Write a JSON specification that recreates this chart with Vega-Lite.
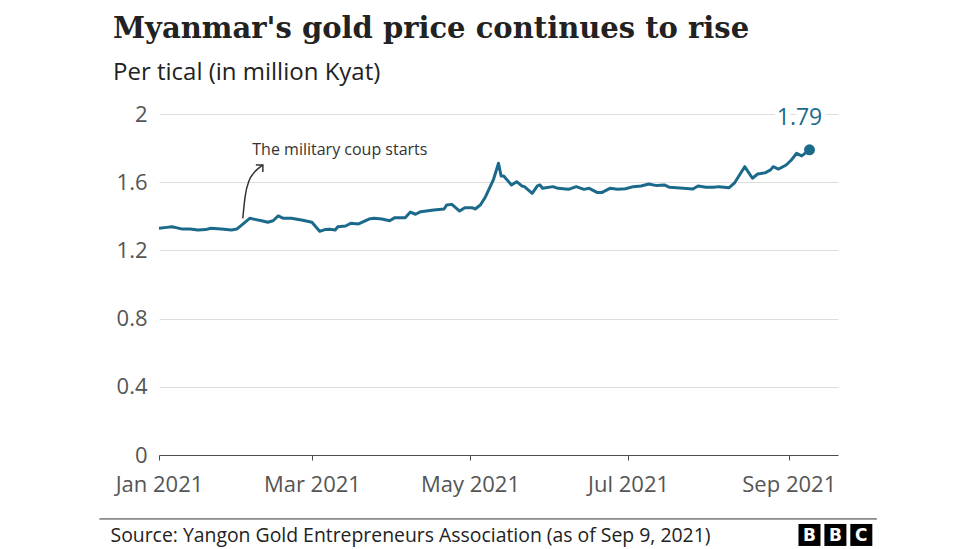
{
  "$schema": "https://vega.github.io/schema/vega-lite/v6.json",
  "width": 679,
  "height": 341,
  "autosize": {"type": "none"},
  "padding": {"left": 159, "top": 114, "right": 138, "bottom": 94},
  "background": "white",
  "config": {"view": {"stroke": null}, "font": "Open Sans"},
  "title": {
    "text": "Myanmar's gold price continues to rise",
    "subtitle": "Per tical (in million Kyat)",
    "anchor": "start",
    "frame": "group",
    "dx": -46,
    "offset": 18,
    "font": "DejaVu Serif",
    "fontSize": 29,
    "fontWeight": "bold",
    "color": "#222222",
    "subtitleFont": "Open Sans",
    "subtitleFontSize": 24,
    "subtitleColor": "#222222",
    "subtitlePadding": 17
  },
  "datasets": {
    "gold": [
      {"date": "2021-01-01", "v": 1.33},
      {"date": "2021-01-04", "v": 1.335},
      {"date": "2021-01-06", "v": 1.339},
      {"date": "2021-01-08", "v": 1.332},
      {"date": "2021-01-10", "v": 1.325},
      {"date": "2021-01-13", "v": 1.326},
      {"date": "2021-01-16", "v": 1.32},
      {"date": "2021-01-19", "v": 1.322},
      {"date": "2021-01-21", "v": 1.33},
      {"date": "2021-01-25", "v": 1.325},
      {"date": "2021-01-29", "v": 1.32},
      {"date": "2021-01-31", "v": 1.325},
      {"date": "2021-02-02", "v": 1.35},
      {"date": "2021-02-05", "v": 1.388},
      {"date": "2021-02-07", "v": 1.382},
      {"date": "2021-02-10", "v": 1.372},
      {"date": "2021-02-12", "v": 1.365},
      {"date": "2021-02-14", "v": 1.374},
      {"date": "2021-02-16", "v": 1.402},
      {"date": "2021-02-18", "v": 1.388},
      {"date": "2021-02-21", "v": 1.388},
      {"date": "2021-02-25", "v": 1.378},
      {"date": "2021-03-01", "v": 1.365},
      {"date": "2021-03-04", "v": 1.312},
      {"date": "2021-03-06", "v": 1.322},
      {"date": "2021-03-08", "v": 1.324},
      {"date": "2021-03-10", "v": 1.32},
      {"date": "2021-03-11", "v": 1.339},
      {"date": "2021-03-14", "v": 1.343},
      {"date": "2021-03-16", "v": 1.359},
      {"date": "2021-03-19", "v": 1.355},
      {"date": "2021-03-23", "v": 1.384},
      {"date": "2021-03-25", "v": 1.388},
      {"date": "2021-03-28", "v": 1.384},
      {"date": "2021-03-31", "v": 1.374},
      {"date": "2021-04-02", "v": 1.392},
      {"date": "2021-04-06", "v": 1.392},
      {"date": "2021-04-08", "v": 1.425},
      {"date": "2021-04-10", "v": 1.412},
      {"date": "2021-04-12", "v": 1.427},
      {"date": "2021-04-17", "v": 1.437},
      {"date": "2021-04-21", "v": 1.443},
      {"date": "2021-04-22", "v": 1.466},
      {"date": "2021-04-24", "v": 1.47},
      {"date": "2021-04-27", "v": 1.431},
      {"date": "2021-04-29", "v": 1.45},
      {"date": "2021-05-02", "v": 1.45},
      {"date": "2021-05-03", "v": 1.443},
      {"date": "2021-05-05", "v": 1.466},
      {"date": "2021-05-07", "v": 1.515},
      {"date": "2021-05-10", "v": 1.613},
      {"date": "2021-05-12", "v": 1.711},
      {"date": "2021-05-13", "v": 1.636},
      {"date": "2021-05-14", "v": 1.636},
      {"date": "2021-05-17", "v": 1.584},
      {"date": "2021-05-19", "v": 1.603},
      {"date": "2021-05-21", "v": 1.578},
      {"date": "2021-05-22", "v": 1.574},
      {"date": "2021-05-25", "v": 1.535},
      {"date": "2021-05-27", "v": 1.578},
      {"date": "2021-05-28", "v": 1.584},
      {"date": "2021-05-29", "v": 1.564},
      {"date": "2021-06-02", "v": 1.574},
      {"date": "2021-06-04", "v": 1.564},
      {"date": "2021-06-08", "v": 1.558},
      {"date": "2021-06-11", "v": 1.574},
      {"date": "2021-06-14", "v": 1.558},
      {"date": "2021-06-16", "v": 1.564},
      {"date": "2021-06-19", "v": 1.54},
      {"date": "2021-06-21", "v": 1.54},
      {"date": "2021-06-24", "v": 1.564},
      {"date": "2021-06-27", "v": 1.558},
      {"date": "2021-06-30", "v": 1.562},
      {"date": "2021-07-03", "v": 1.574},
      {"date": "2021-07-06", "v": 1.578},
      {"date": "2021-07-09", "v": 1.589},
      {"date": "2021-07-12", "v": 1.58},
      {"date": "2021-07-15", "v": 1.584},
      {"date": "2021-07-17", "v": 1.57},
      {"date": "2021-07-21", "v": 1.566},
      {"date": "2021-07-26", "v": 1.56},
      {"date": "2021-07-28", "v": 1.578},
      {"date": "2021-07-31", "v": 1.57},
      {"date": "2021-08-03", "v": 1.57},
      {"date": "2021-08-05", "v": 1.574},
      {"date": "2021-08-09", "v": 1.568},
      {"date": "2021-08-11", "v": 1.594},
      {"date": "2021-08-13", "v": 1.642},
      {"date": "2021-08-15", "v": 1.691},
      {"date": "2021-08-18", "v": 1.623},
      {"date": "2021-08-20", "v": 1.648},
      {"date": "2021-08-23", "v": 1.656},
      {"date": "2021-08-25", "v": 1.672},
      {"date": "2021-08-26", "v": 1.691},
      {"date": "2021-08-28", "v": 1.677},
      {"date": "2021-08-31", "v": 1.701},
      {"date": "2021-09-02", "v": 1.73},
      {"date": "2021-09-04", "v": 1.769},
      {"date": "2021-09-06", "v": 1.754},
      {"date": "2021-09-09", "v": 1.79}
    ],
    "arrow": [
      {"date": "2021-02-02T08:00:00Z", "v": 1.388},
      {"date": "2021-02-03T05:30:00Z", "v": 1.515},
      {"date": "2021-02-04T21:00:00Z", "v": 1.613},
      {"date": "2021-02-06T10:30:00Z", "v": 1.652},
      {"date": "2021-02-08T09:00:00Z", "v": 1.681},
      {"date": "2021-02-10T01:40:00Z", "v": 1.701}
    ],
    "note": [
      {"date": "2021-02-06", "v": 1.76, "label": "The military coup starts"}
    ],
    "logo": [
      {"date": "2021-09-09", "v": -0.469, "letter": "B"},
      {"date": "2021-09-19", "v": -0.469, "letter": "B"},
      {"date": "2021-09-29", "v": -0.469, "letter": "C"}
    ],
    "footer": [
      {"date": "2020-12-09", "date2": "2021-10-05", "v": -0.375}
    ]
  },
  "layer": [
    {
      "data": {"name": "gold"},
      "mark": {"type": "line", "color": "#1b6a8b", "strokeWidth": 3, "strokeJoin": "round"},
      "encoding": {
        "x": {
          "field": "date",
          "type": "temporal",
          "scale": {"type": "utc", "domain": [{"year": 2021, "month": 1, "date": 1, "utc": true}, {"year": 2021, "month": 9, "date": 20, "utc": true}]},
          "axis": {
            "values": [
              {"year": 2021, "month": 1, "date": 1, "utc": true},
              {"year": 2021, "month": 3, "date": 1, "utc": true},
              {"year": 2021, "month": 5, "date": 1, "utc": true},
              {"year": 2021, "month": 7, "date": 1, "utc": true},
              {"year": 2021, "month": 9, "date": 1, "utc": true}
            ],
            "labelExpr": "utcFormat(datum.value, '%b %Y')",
            "grid": false,
            "domainColor": "#4d4d4d",
            "tickColor": "#4d4d4d",
            "tickSize": 5,
            "labelFontSize": 22,
            "labelColor": "#555555",
            "labelFont": "Open Sans",
            "labelPadding": 14,
            "labelFlush": false,
            "labelOverlap": false,
            "title": "Source: Yangon Gold Entrepreneurs Association (as of Sep 9, 2021)",
            "titleAnchor": "start",
            "titleAlign": "left",
            "titleBaseline": "alphabetic",
            "titleX": -49,
            "titleY": 86,
            "titleFont": "Open Sans",
            "titleFontSize": 19.4,
            "titleFontWeight": "normal",
            "titleColor": "#222222"
          }
        },
        "y": {
          "field": "v",
          "type": "quantitative",
          "scale": {"domain": [0, 2], "nice": false, "zero": false},
          "axis": {
            "values": [0, 0.4, 0.8, 1.2, 1.6, 2],
            "format": ".1~f",
            "title": null,
            "domain": false,
            "ticks": false,
            "gridColor": "#dddddd",
            "gridWidth": 1,
            "labelFontSize": 22,
            "labelColor": "#555555",
            "labelFont": "Open Sans",
            "labelPadding": 12
          }
        }
      }
    },
    {
      "data": {"name": "gold"},
      "transform": [{"filter": "datum.v == 1.79"}],
      "mark": {"type": "point", "filled": true, "opacity": 1, "color": "#1b6a8b", "size": 120},
      "encoding": {
        "x": {"field": "date", "type": "temporal"},
        "y": {"field": "v", "type": "quantitative"}
      }
    },
    {
      "data": {"name": "gold"},
      "transform": [{"filter": "datum.v == 1.79"}],
      "mark": {"type": "text", "fontSize": 23, "font": "Open Sans", "align": "center", "baseline": "alphabetic", "dx": -10, "dy": -25, "color": "white", "stroke": "white", "strokeWidth": 10, "strokeJoin": "round"},
      "encoding": {
        "x": {"field": "date", "type": "temporal"},
        "y": {"field": "v", "type": "quantitative"},
        "text": {"field": "v", "type": "quantitative", "format": ".2f"}
      }
    },
    {
      "data": {"name": "gold"},
      "transform": [{"filter": "datum.v == 1.79"}],
      "mark": {"type": "text", "fontSize": 23, "font": "Open Sans", "align": "center", "baseline": "alphabetic", "dx": -10, "dy": -25, "color": "#1b6a8b"},
      "encoding": {
        "x": {"field": "date", "type": "temporal"},
        "y": {"field": "v", "type": "quantitative"},
        "text": {"field": "v", "type": "quantitative", "format": ".2f"}
      }
    },
    {
      "data": {"name": "arrow"},
      "mark": {"type": "line", "color": "#333333", "strokeWidth": 1.5, "interpolate": "monotone"},
      "encoding": {
        "x": {"field": "date", "type": "temporal"},
        "y": {"field": "v", "type": "quantitative"}
      }
    },
    {
      "data": {"name": "arrow"},
      "transform": [{"filter": "datum.v == 1.701"}],
      "mark": {"type": "point", "shape": "M-0.7,0.7L0,0L0.7,0.7", "filled": false, "color": "#333333", "strokeWidth": 1.5, "size": 200, "angle": 45, "opacity": 1},
      "encoding": {
        "x": {"field": "date", "type": "temporal"},
        "y": {"field": "v", "type": "quantitative"}
      }
    },
    {
      "data": {"name": "note"},
      "mark": {"type": "text", "fontSize": 16, "font": "Open Sans", "align": "left", "baseline": "alphabetic", "color": "#333333"},
      "encoding": {
        "x": {"field": "date", "type": "temporal"},
        "y": {"field": "v", "type": "quantitative"},
        "text": {"field": "label"}
      }
    },
    {
      "data": {"name": "footer"},
      "mark": {"type": "rule", "color": "#333333", "strokeWidth": 1},
      "encoding": {
        "x": {"field": "date", "type": "temporal"},
        "x2": {"field": "date2"},
        "y": {"field": "v", "type": "quantitative"}
      }
    },
    {
      "data": {"name": "logo"},
      "mark": {"type": "point", "shape": "square", "filled": true, "color": "#000000", "opacity": 1, "size": 484},
      "encoding": {
        "x": {"field": "date", "type": "temporal"},
        "y": {"field": "v", "type": "quantitative"}
      }
    },
    {
      "data": {"name": "logo"},
      "mark": {"type": "text", "fontSize": 17, "font": "DejaVu Sans", "fontWeight": "bold", "align": "center", "baseline": "middle", "dy": 1, "color": "white"},
      "encoding": {
        "x": {"field": "date", "type": "temporal"},
        "y": {"field": "v", "type": "quantitative"},
        "text": {"field": "letter"}
      }
    }
  ]
}
